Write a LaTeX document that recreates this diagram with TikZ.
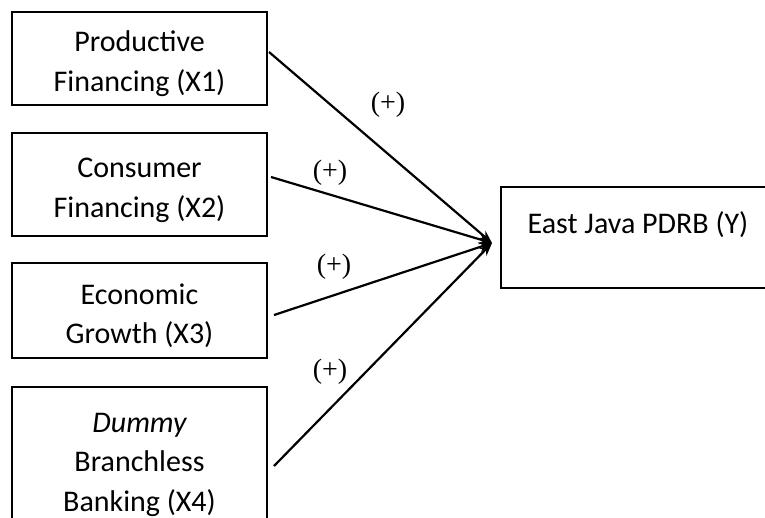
\documentclass[tikz,border=0pt]{standalone}
\usepackage{fontspec}
\setmainfont{Carlito}
\newfontfamily\timesf{Liberation Serif}
\usetikzlibrary{arrows.meta}
\newcommand\toplift{\rule{0pt}{31pt}}
\newcommand\smalllift{\rule{0pt}{27pt}}
\begin{document}
\begin{tikzpicture}[x=1pt,y=-1pt,
  box/.style={draw,line width=2pt,minimum width=255pt,align=center,inner sep=0pt,
    font=\fontsize{30}{39.5}\selectfont},
  conn/.style={line width=2.2pt,-{Stealth[length=13pt,width=10pt]}},
  sign/.style={font=\timesf\fontsize{28}{32}\selectfont,inner sep=0pt}]
\useasboundingbox (0,0) rectangle (765,517);
\clip (0,0) rectangle (765,517);
\node[box,minimum height=93pt] (x1) at (139.5,58.5) {\toplift Productive\\Financing (X1)};
\node[box,minimum height=103pt] (x2) at (139.5,184.5) {\toplift Consumer\\Financing (X2)};
\node[box,minimum height=95pt] (x3) at (139.5,310.5) {\toplift Economic\\Growth (X3)};
\node[box,minimum height=148pt] (x4) at (139.5,461) {\smalllift\itshape Dummy\\Branchless\\Banking (X4)};
\node[box,minimum width=274pt,minimum height=101pt,font=\fontsize{30}{40}\selectfont] (y) at (638,237.5) {\toplift East Java PDRB (Y)\\\mbox{}};
\coordinate (t) at (492,243);
\draw[conn] ([shift={(1,-6.5)}]x1.east) -- (t);
\draw[conn] ([shift={(3,-7.5)}]x2.east) -- (t);
\draw[conn] ([shift={(6,4.5)}]x3.east) -- (t);
\draw[conn] ([shift={(6,5)}]x4.east) -- (t);
\node[sign] (s1) at (388,105) {(+)};
\node[sign] (s2) at (330,173) {(+)};
\node[sign] (s3) at (334,267) {(+)};
\node[sign] (s4) at (330,372) {(+)};
\end{tikzpicture}
\end{document}
